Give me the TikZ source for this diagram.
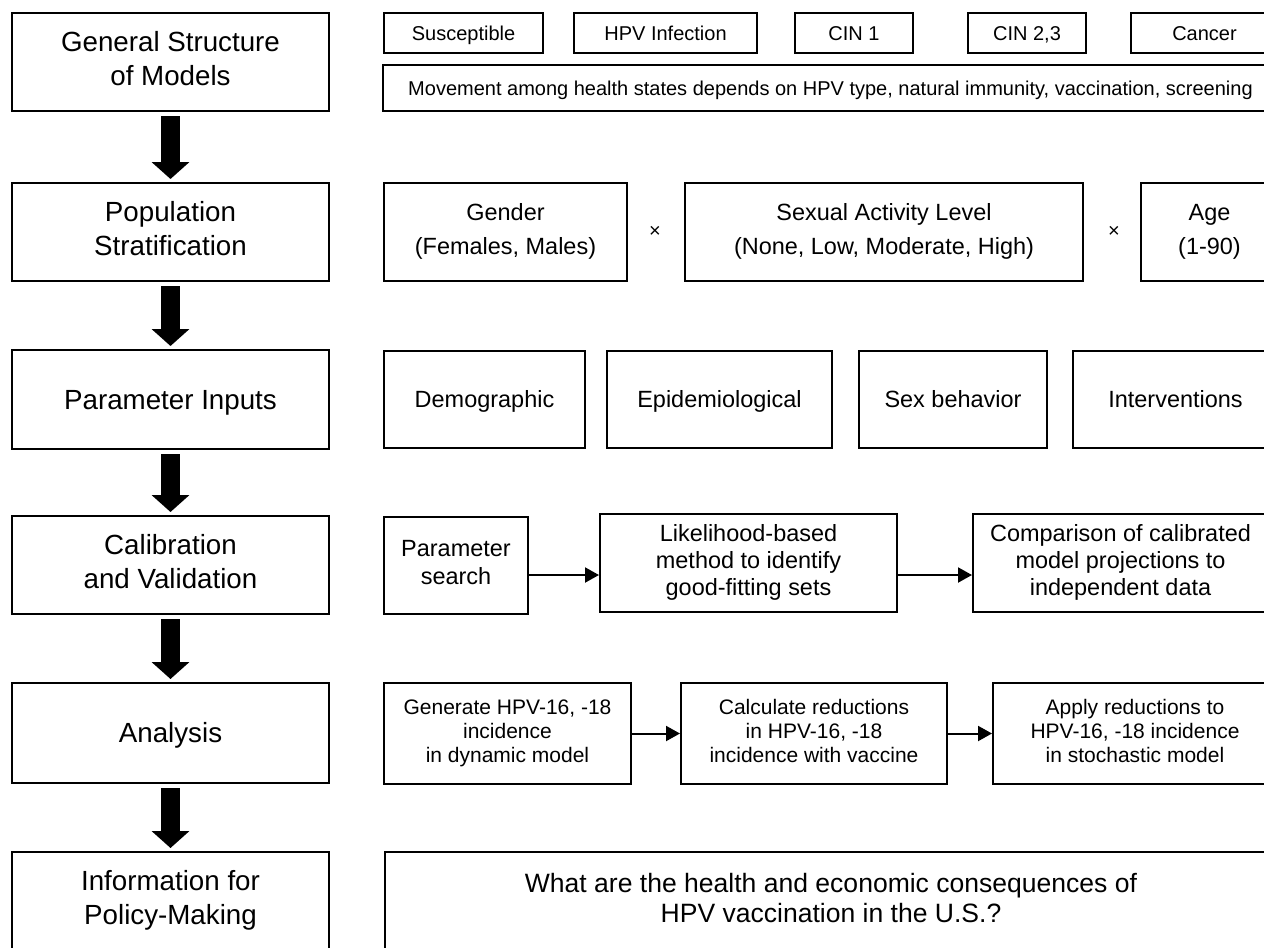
\documentclass[tikz,border=0pt]{standalone}
\usepackage{fontspec}
\setmainfont{Liberation Sans}
\usetikzlibrary{arrows.meta}
\newcommand\fL{\fontsize{20.8pt}{25pt}\selectfont}
\newcommand\fA{\fontsize{15pt}{17.5pt}\selectfont}
\newcommand\fB{\fontsize{17.6pt}{20.5pt}\selectfont}
\newcommand\fBB{\fontsize{17.6pt}{25.5pt}\selectfont}
\newcommand\fC{\fontsize{15.75pt}{18pt}\selectfont}
\newcommand\fD{\fontsize{19.9pt}{22.5pt}\selectfont}
\newcommand\mystrut{\vrule width0pt height0.97em depth0.25em\relax}
\tikzset{
  box/.style={draw=black, line width=1.5pt, inner sep=0pt, align=center, text=black,
    execute at begin node=\mystrut, execute at end node=\mystrut},
  lbox/.style={box, minimum width=237.75pt, minimum height=73.5pt, font=\fL},
  bigarrow/.style={line width=14.25pt, -{Triangle[width=27.75pt,length=12.75pt]}, shorten <=3pt, shorten >=2.25pt},
  sarrow/.style={line width=1.5pt, -{Triangle[width=11.25pt,length=10.5pt]}},
}
\begin{document}
\begin{tikzpicture}[x=0.75pt,y=-0.75pt]
\useasboundingbox (0,0) rectangle (1264,947);
\clip (0,0) rectangle (1264,947);
% left column
\node[lbox] (l1) at (170.5,62) {General Structure\\of Models};
\node[lbox] (l2) at (170.5,232) {Population\\Stratification};
\node[lbox, minimum height=74.25pt] (l3) at (170.5,399.5) {Parameter Inputs};
\node[lbox] (l4) at (170.5,565) {Calibration\\and Validation};
\node[lbox, minimum height=75pt] (l5) at (170.5,733) {Analysis};
\node[lbox] (l6) at (170.5,901) {Information for\\Policy-Making};
\draw[bigarrow] (l1) -- (l2);
\draw[bigarrow] (l2) -- (l3);
\draw[bigarrow] (l3) -- (l4);
\draw[bigarrow] (l4) -- (l5);
\draw[bigarrow] (l5) -- (l6);
% row 1
\node[box, font=\fA, minimum width=119.25pt, minimum height=30pt] (sus) at (463.5,33) {Susceptible};
\node[box, font=\fA, minimum width=137.25pt, minimum height=30pt] (hpv) at (665.5,33) {HPV Infection};
\node[box, font=\fA, minimum width=88.5pt, minimum height=30pt] (cin1) at (854,33) {CIN 1};
\node[box, font=\fA, minimum width=88.5pt, minimum height=30pt] (cin23) at (1027,33) {CIN 2,3};
\node[box, font=\fA, minimum width=110.25pt, minimum height=30pt] (cancer) at (1204.5,33) {Cancer};
\node[box, font=\fA, minimum width=671.25pt, minimum height=34.5pt] (move) at (830.5,88) {Movement among health states depends on HPV type, natural immunity, vaccination, screening};
% row 2
\node[box, font=\fBB, minimum width=182.25pt, minimum height=73.5pt] (gender) at (505.5,232) {Gender\\(Females, Males)};
\node[font=\fA, inner sep=0pt] (x1) at (655,232) {×};
\node[box, font=\fBB, minimum width=298.5pt, minimum height=73.5pt] (sal) at (884,232) {Sexual Activity Level\\(None, Low, Moderate, High)};
\node[font=\fA, inner sep=0pt] (x2) at (1114,232) {×};
\node[box, font=\fBB, minimum width=102.75pt, minimum height=73.5pt] (age) at (1209.5,232) {Age\\(1-90)};
% row 3
\node[box, font=\fB, minimum width=150.75pt, minimum height=72.75pt] (demo) at (484.5,399.5) {Demographic};
\node[box, font=\fB, minimum width=168.75pt, minimum height=72.75pt] (epi) at (719.5,399.5) {Epidemiological};
\node[box, font=\fB, minimum width=141pt, minimum height=72.75pt] (sexb) at (953,399.5) {Sex behavior};
\node[box, font=\fB, minimum width=153.75pt, minimum height=72.75pt] (interv) at (1175.5,399.5) {Interventions};
% row 4
\node[box, font=\fB, minimum width=108pt, minimum height=72.75pt] (psearch) at (456,565.5) {Parameter\\search};
\node[box, font=\fB, minimum width=222.75pt, minimum height=73.5pt] (like) at (748.5,563) {Likelihood-based\\method to identify\\good-fitting sets};
\node[box, font=\fB, minimum width=221.25pt, minimum height=73.5pt] (comp) at (1120.5,563) {Comparison of calibrated\\model projections to\\independent data};
\coordinate (r4) at ([yshift=-9pt]like.west);
\draw[sarrow] (psearch.east |- r4) -- (r4);
\draw[sarrow] (like.east |- r4) -- (comp.west |- r4);
% row 5
\node[box, font=\fC, minimum width=185.25pt, minimum height=75.75pt] (gen) at (507.5,733.5) {Generate HPV-16, -18\\incidence\\in dynamic model};
\node[box, font=\fC, minimum width=199.5pt, minimum height=75.75pt] (calc) at (814,733.5) {Calculate reductions\\in HPV-16, -18\\incidence with vaccine};
\node[box, font=\fC, minimum width=213pt, minimum height=75.75pt] (apply) at (1135,733.5) {Apply reductions to\\HPV-16, -18 incidence\\in stochastic model};
\draw[sarrow] (gen) -- (calc);
\draw[sarrow] (calc) -- (apply);
% row 6
\node[box, font=\fD, minimum width=669pt, minimum height=73.5pt] (quest) at (831,901) {What are the health and economic consequences of\\HPV vaccination in the U.S.?};
\end{tikzpicture}
\end{document}
